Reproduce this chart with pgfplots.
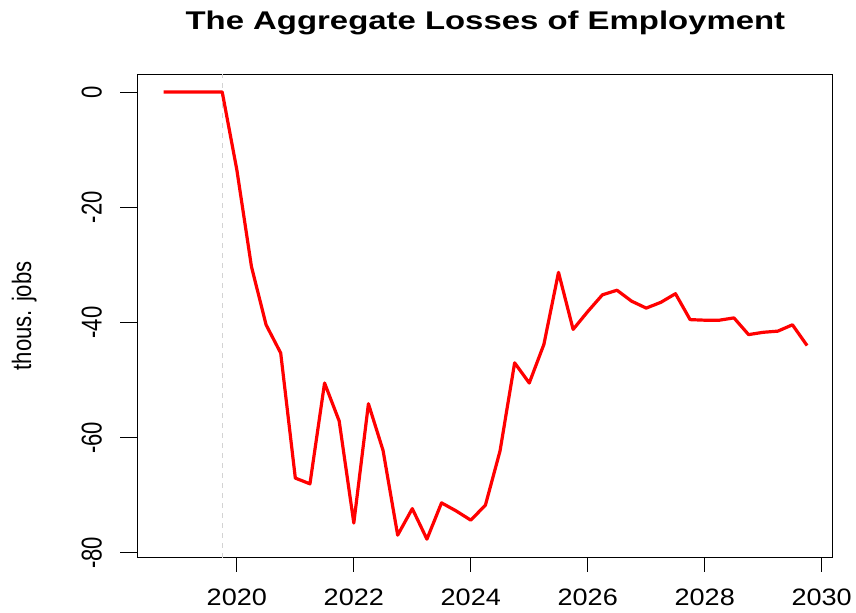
\documentclass[border=0pt]{standalone}
\usepackage{fontspec}
\setmainfont{Liberation Sans}
\newfontfamily\xtfont{Liberation Sans}[FakeStretch=1.14]
\newfontfamily\ytfont{Liberation Sans}[FakeStretch=0.77]
\newfontfamily\ylfont{Liberation Sans}[FakeStretch=0.83]
\newfontfamily\ttlfont{Liberation Sans}[FakeStretch=1.285]
\usepackage{pgfplots}
\pgfplotsset{compat=1.18}
\definecolor{rlightgray}{RGB}{211,211,211}
\begin{document}
\begin{tikzpicture}
\useasboundingbox (-103.5pt,-40.8pt) rectangle (538.5pt,418.2pt);
\begin{axis}[
  at={(0,0)}, anchor=south west,
  scale only axis, width=521.1pt, height=362.6pt,
  xmin=2018.31, xmax=2030.19, ymin=-80.8, ymax=3.1,
  axis line style={black, line width=0.75pt},
  xtick={2020,2022,2024,2026,2028,2030},
  xticklabels={2020,2022,2024,2026,2028,2030},
  ytick={-80,-60,-40,-20,0},
  yticklabels={-80,-60,-40,-20,0},
  tick align=outside, tick pos=left,
  major tick length=10.5pt,
  ytick style={/pgfplots/major tick length=13.5pt},
  every tick/.style={black, line width=0.75pt},
  xticklabel shift=12.75pt,
  yticklabel shift=16.5pt,
  xticklabel style={font=\xtfont\fontsize{17.8}{20}\selectfont, anchor=north, inner sep=0pt},
  yticklabel style={font=\ytfont\fontsize{21.5}{24}\selectfont, rotate=90, anchor=south, inner sep=0pt},
  title={The Aggregate Losses of Employment},
  every axis title/.style={at={(axis description cs:0.5,1)}, anchor=base, yshift=33.75pt, inner sep=0pt, font=\ttlfont\bfseries\fontsize{19.2}{23}\selectfont},
  ylabel={thous. jobs},
  every axis y label/.style={at={(axis description cs:0,0.5)}, xshift=-80.2pt, rotate=90, anchor=base, inner sep=0pt, font=\ylfont\fontsize{20}{24}\selectfont},
]
\addplot[rlightgray, line width=0.75pt, dash pattern=on 3.75pt off 3.75pt] coordinates {(2019.75,-80.8) (2019.75,3.1)};
\addplot[red, line width=2.4pt, line join=round] coordinates {
(2018.75,0) (2019.00,0) (2019.25,0) (2019.50,0) (2019.75,0)
(2020.00,-13.5) (2020.25,-30.3) (2020.50,-40.4) (2020.75,-45.3)
(2021.00,-67.0) (2021.25,-68.0) (2021.50,-50.5) (2021.75,-57.1)
(2022.00,-74.8) (2022.25,-54.1) (2022.50,-62.2) (2022.75,-76.9)
(2023.00,-72.3) (2023.25,-77.6) (2023.50,-71.3) (2023.75,-72.7)
(2024.00,-74.3) (2024.25,-71.7) (2024.50,-62.3) (2024.75,-47.0)
(2025.00,-50.5) (2025.25,-43.8) (2025.50,-31.3) (2025.75,-41.2)
(2026.00,-38.1) (2026.25,-35.2) (2026.50,-34.4) (2026.75,-36.3)
(2027.00,-37.5) (2027.25,-36.5) (2027.50,-35.0) (2027.75,-39.5)
(2028.00,-39.6) (2028.25,-39.6) (2028.50,-39.2) (2028.75,-42.1)
(2029.00,-41.7) (2029.25,-41.5) (2029.50,-40.4) (2029.75,-44.0)
};
\end{axis}
\end{tikzpicture}
\end{document}
